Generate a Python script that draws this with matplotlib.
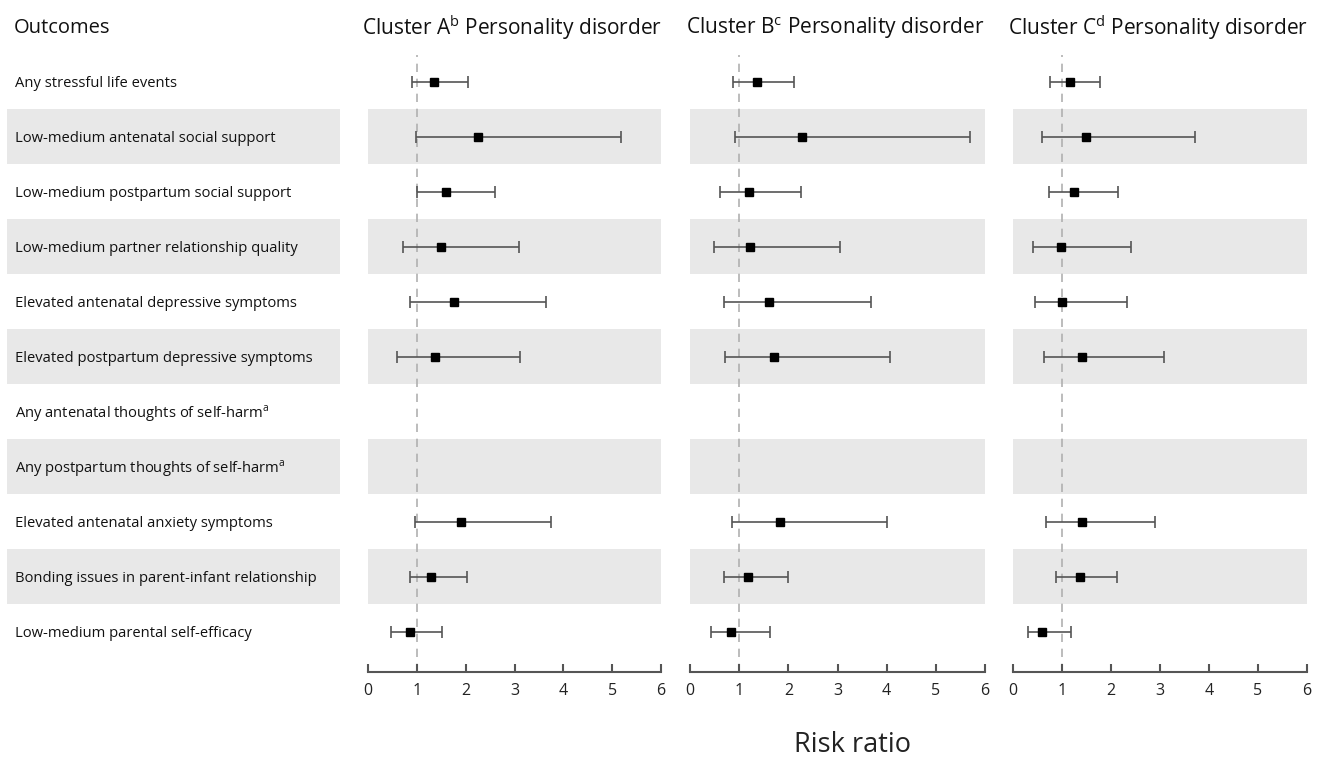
import numpy as np
import matplotlib.pyplot as plt

plt.rcParams['font.family'] = ['Open Sans', 'DejaVu Sans']

outcomes = ['Any stressful life events',
            'Low-medium antenatal social support',
            'Low-medium postpartum social support',
            'Low-medium partner relationship quality',
            'Elevated antenatal depressive symptoms',
            'Elevated postpartum depressive symptoms',
            'Any antenatal thoughts of self-harm$^\\mathregular{a}$',
            'Any postpartum thoughts of self-harm$^\\mathregular{a}$',
            'Elevated antenatal anxiety symptoms',
            'Bonding issues in parent-infant relationship',
            'Low-medium parental self-efficacy']

titles = ['Cluster A$^\\mathregular{b}$ Personality disorder',
          'Cluster B$^\\mathregular{c}$ Personality disorder',
          'Cluster C$^\\mathregular{d}$ Personality disorder']

nan = np.nan
# risk ratio, lower CI, upper CI per cluster
rr_a = [1.35, 2.26, 1.60, 1.50, 1.77, 1.37, nan, nan, 1.91, 1.30, 0.86]
lo_a = [0.90, 0.98, 1.00, 0.72, 0.85, 0.60, nan, nan, 0.97, 0.85, 0.48]
hi_a = [2.05, 5.18, 2.60, 3.09, 3.64, 3.11, nan, nan, 3.75, 2.02, 1.52]

rr_b = [1.36, 2.28, 1.19, 1.23, 1.60, 1.71, nan, nan, 1.84, 1.17, 0.83]
lo_b = [0.88, 0.92, 0.62, 0.49, 0.69, 0.72, nan, nan, 0.85, 0.69, 0.43]
hi_b = [2.12, 5.69, 2.25, 3.06, 3.68, 4.07, nan, nan, 4.01, 1.99, 1.62]

rr_c = [1.16, 1.48, 1.25, 0.98, 1.01, 1.40, nan, nan, 1.40, 1.36, 0.60]
lo_c = [0.75, 0.59, 0.74, 0.40, 0.44, 0.64, nan, nan, 0.68, 0.87, 0.31]
hi_c = [1.78, 3.72, 2.15, 2.40, 2.33, 3.09, nan, nan, 2.90, 2.12, 1.19]

clusters = [(rr_a, lo_a, hi_a), (rr_b, lo_b, hi_b), (rr_c, lo_c, hi_c)]

W, H = 1321, 760
fig = plt.figure(figsize=(W / 100, H / 100), dpi=100)

y = np.arange(len(outcomes))
ylim = (10.73, -0.49)
band = '#e8e8e8'

# label column
axl = fig.add_axes([7 / W, 1 - 672 / H, 333 / W, 617 / H])
axl.set_xlim(0, 1)
axl.set_ylim(*ylim)
for i in y:
    if i % 2 == 1:
        axl.axhspan(i - 0.5, i + 0.5, color=band, lw=0)
    axl.text(0.024, i + 0.03, outcomes[i], va='center', ha='left', fontsize=10.6, color='#111111')
axl.axis('off')
fig.text(14 / W, 1 - 28 / H, 'Outcomes', fontsize=14.5, va='center', ha='left', color='#111111')

lefts = [368, 690, 1013]
widths = [293, 295, 294]
for k, (rr, lo, hi) in enumerate(clusters):
    ax = fig.add_axes([lefts[k] / W, 1 - 672 / H, widths[k] / W, 617 / H])
    rr = np.array(rr)
    lo = np.array(lo)
    hi = np.array(hi)
    for i in y:
        if i % 2 == 1:
            ax.axhspan(i - 0.5, i + 0.5, color=band, lw=0)
    ax.axvline(1, color='#b0b0b0', ls=(0, (5, 4)), lw=1.2, zorder=1)
    ok = ~np.isnan(rr)
    ax.errorbar(rr[ok], y[ok], xerr=[rr[ok] - lo[ok], hi[ok] - rr[ok]],
                fmt='s', color='black', ms=6, ecolor='#555555', elinewidth=1.2,
                capsize=4, capthick=1.2, zorder=3)
    ax.set_xlim(0, 6)
    ax.set_ylim(*ylim)
    ax.set_xticks(range(7))
    ax.set_yticks([])
    for s in ['top', 'right', 'left']:
        ax.spines[s].set_visible(False)
    ax.spines['bottom'].set_color('#555555')
    ax.spines['bottom'].set_linewidth(1.5)
    ax.tick_params(axis='x', direction='in', length=6, width=1.5, color='#555555',
                   labelsize=11.5, labelcolor='#222222', pad=8)
    fig.text((lefts[k] + widths[k] / 2 - 2) / W, 1 - 28 / H, titles[k],
             fontsize=15, ha='center', va='center', color='#111111')

fig.text(853 / W, 1 - 745 / H, 'Risk ratio', fontsize=19.5, ha='center', va='center', color='#222222')

fig.savefig('out.png', dpi=100, facecolor='white')
